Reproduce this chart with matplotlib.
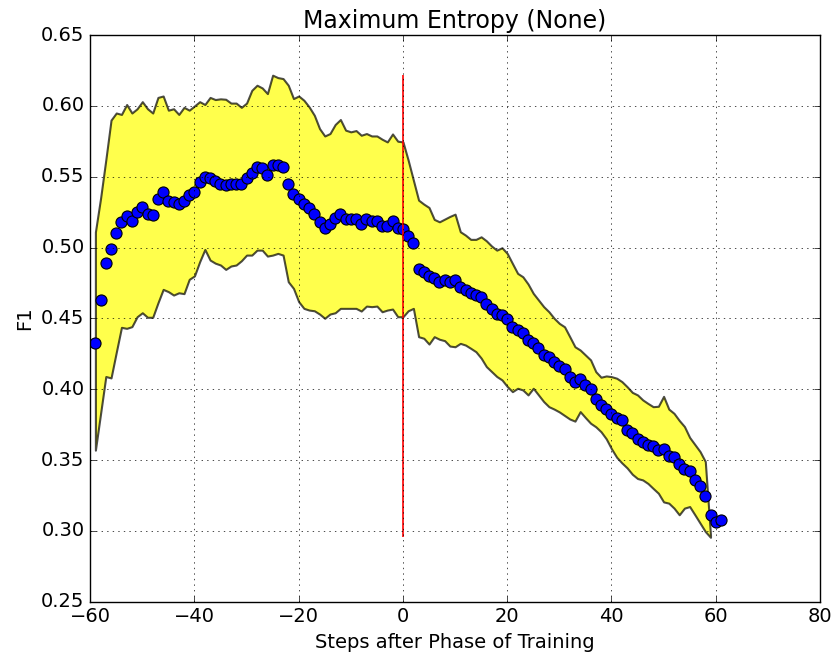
import matplotlib
matplotlib.use('Agg')
import matplotlib.pyplot as plt
import numpy as np

plt.style.use('classic')
plt.rcParams['font.size'] = 14

# mean F1 per step (steps -59 .. 61)
steps = np.arange(-59, 62)
f1_mean = [
    0.433, 0.463, 0.489, 0.499, 0.510, 0.518, 0.522, 0.519, 0.525, 0.529,
    0.524, 0.523, 0.534, 0.539, 0.533, 0.532, 0.531, 0.533, 0.537, 0.539,
    0.546, 0.550, 0.549, 0.547, 0.545, 0.544, 0.545, 0.545, 0.545, 0.549,
    0.553, 0.557, 0.556, 0.551, 0.558, 0.558, 0.557, 0.545, 0.538, 0.534,
    0.531, 0.528, 0.524, 0.518, 0.514, 0.517, 0.521, 0.524, 0.520, 0.520,
    0.520, 0.517, 0.520, 0.519, 0.519, 0.515, 0.515, 0.519, 0.5135, 0.513,
    0.508, 0.503, 0.485, 0.483, 0.480, 0.4785, 0.476, 0.477, 0.476, 0.477,
    0.472, 0.470, 0.468, 0.4665, 0.465, 0.460, 0.457, 0.453, 0.4525, 0.4495,
    0.444, 0.442, 0.4395, 0.435, 0.433, 0.429, 0.424, 0.4225, 0.419, 0.4165,
    0.4145, 0.409, 0.405, 0.407, 0.403, 0.4003, 0.393, 0.389, 0.386, 0.3826,
    0.3795, 0.378, 0.371, 0.369, 0.365, 0.363, 0.361, 0.360, 0.357, 0.358,
    0.353, 0.352, 0.347, 0.344, 0.342, 0.336, 0.332, 0.325, 0.311, 0.306,
    0.3075,
]

# spread band (steps -59 .. 59)
band_steps = np.arange(-59, 60)
f1_upper = [
    0.511, 0.535, 0.562, 0.590, 0.595, 0.594, 0.601, 0.595, 0.598, 0.603,
    0.598, 0.595, 0.606, 0.607, 0.597, 0.598, 0.594, 0.599, 0.597, 0.600,
    0.603, 0.601, 0.606, 0.6045, 0.605, 0.6047, 0.602, 0.602, 0.599, 0.602,
    0.611, 0.6146, 0.6127, 0.6087, 0.6217, 0.620, 0.6193, 0.6146, 0.6052, 0.607,
    0.604, 0.5993, 0.5934, 0.584, 0.5788, 0.5805, 0.5869, 0.5904, 0.5829, 0.5817,
    0.5826, 0.5793, 0.5805, 0.5788, 0.5788, 0.5765, 0.5746, 0.5802, 0.5751, 0.5746,
    0.5617, 0.5476, 0.5335, 0.5307, 0.5283, 0.5199, 0.5182, 0.5201, 0.522, 0.5236,
    0.5112, 0.5088, 0.5058, 0.5058, 0.5076, 0.5048, 0.5011, 0.4982, 0.4999, 0.4959,
    0.4888, 0.4818, 0.4794, 0.4743, 0.4677, 0.463, 0.4583, 0.4547, 0.4501, 0.4465,
    0.4441, 0.4371, 0.430, 0.4277, 0.4242, 0.4207, 0.4124, 0.4085, 0.4094, 0.4089,
    0.4078, 0.4054, 0.4018, 0.3978, 0.396, 0.3925, 0.390, 0.3877, 0.388, 0.395,
    0.386, 0.383, 0.378, 0.3737, 0.366, 0.361, 0.356, 0.349, 0.297,
]
f1_lower = [
    0.357, 0.383, 0.409, 0.408, 0.426, 0.4437, 0.443, 0.4442, 0.4512, 0.454,
    0.4508, 0.4508, 0.461, 0.4705, 0.4689, 0.4665, 0.4681, 0.4675, 0.4776, 0.480,
    0.490, 0.4987, 0.4912, 0.489, 0.4877, 0.4846, 0.487, 0.4877, 0.4907, 0.4947,
    0.4947, 0.4982, 0.4982, 0.494, 0.4947, 0.4959, 0.4947, 0.4759, 0.4712, 0.4618,
    0.4571, 0.4559, 0.4554, 0.4531, 0.4501, 0.4531, 0.454, 0.4571, 0.4571, 0.4571,
    0.4571, 0.4552, 0.4587, 0.4583, 0.4587, 0.4547, 0.4559, 0.4566, 0.4512, 0.4512,
    0.4554, 0.4571, 0.4371, 0.436, 0.4319, 0.4371, 0.4353, 0.4343, 0.4305, 0.430,
    0.4324, 0.4312, 0.4289, 0.4265, 0.422, 0.416, 0.4125, 0.409, 0.4066, 0.402,
    0.3983, 0.4007, 0.3995, 0.396, 0.4007, 0.396, 0.3913, 0.3877, 0.386, 0.384,
    0.3815, 0.379, 0.3775, 0.3842, 0.380, 0.376, 0.3735, 0.370, 0.365, 0.358,
    0.352, 0.348, 0.3445, 0.340, 0.337, 0.336, 0.3335, 0.330, 0.3266, 0.3205,
    0.3196, 0.3161, 0.3114, 0.3161, 0.3172, 0.3114, 0.3055, 0.2996, 0.2955,
]

fig = plt.figure(figsize=(8.35, 6.62), dpi=100, facecolor='white')
ax = fig.add_axes([0.108, 0.091, 0.874, 0.856])

ax.fill_between(band_steps, f1_lower, f1_upper, facecolor='yellow',
                edgecolor='black', alpha=0.7, linewidth=1.5)
ax.plot(steps, f1_mean, 'bo', markersize=8, markeredgecolor='black',
        markeredgewidth=0.8)
ax.vlines(0, min(f1_lower), max(f1_upper), colors='red', linewidth=1.2)

ax.set_xlim(-60, 80)
ax.set_ylim(0.25, 0.65)
ax.set_xticks(np.arange(-60, 81, 20))
ax.set_yticks(np.arange(0.25, 0.651, 0.05))
ax.tick_params(labelsize=14)
ax.grid(True)
ax.set_title('Maximum Entropy (None)', fontsize=17)
ax.set_xlabel('Steps after Phase of Training', fontsize=14)
ax.set_ylabel('F1', fontsize=14)

fig.savefig('out.png', dpi=100, facecolor='white')
